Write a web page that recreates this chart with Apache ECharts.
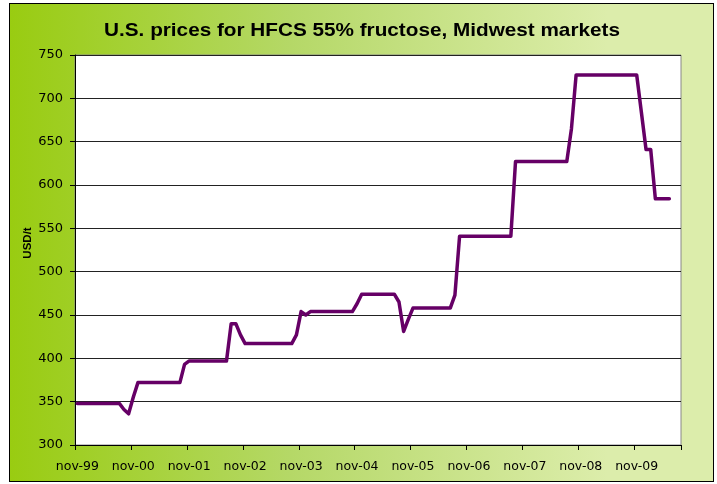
<!DOCTYPE html>
<html><head><meta charset="utf-8">
<script src="https://cdn.jsdelivr.net/npm/echarts@6/dist/echarts.min.js"></script>
<style>
html,body{margin:0;padding:0;background:#fff;}
#bg{position:absolute;left:9px;top:3px;width:703px;height:477px;border:1px solid #000;
background:linear-gradient(to right,#99cc11 0%,#b5d867 40%,#dcedab 85%,#dcedab 100%);}
#chart{position:absolute;left:0;top:0;width:717px;height:484px;}
</style></head>
<body>
<div id="bg"></div>
<div id="chart"></div>
<script>
// Month abbreviations used to build the category labels (nov-99 ... aug-10)
const monthNames = ['nov','dic','ene','feb','mar','abr','may','jun','jul','ago','sep','oct'];
const startYear = 1999;
const categoryCount = 130;
const tickLabels = ['nov-99','nov-00','nov-01','nov-02','nov-03','nov-04','nov-05','nov-06','nov-07','nov-08','nov-09'];
const titleText = 'U.S. prices for HFCS 55% fructose, Midwest markets';
const yAxisTitle = 'USD/t';

// HFCS 55% price, USD/t, monthly from nov-99
const prices1999_2002 = [348,348,348,348,348,348,348,348,348,348,341,336,355,372,372,372,372,372,372,372,372,372,372,393,397,397,397,397,397,397,397,397,397,440,440,427,417];
const prices2002_2005 = [417,417,417,417,417,417,417,417,417,417,427,454,450,454,454,454,454,454,454,454,454,454,454,463,474,474,474,474,474,474,474,474,465,431,445];
const prices2005_2008 = [458,458,458,458,458,458,458,458,458,473,541,541,541,541,541,541,541,541,541,541,541,541,627,627,627,627,627,627,627,627,627,627,627,627,665];
const prices2008_2010 = [727,727,727,727,727,727,727,727,727,727,727,727,727,727,684,641,641,584,584,584,584];

const categories = [];
for (let i = 0; i < categoryCount; i++) {
  const mi = i % 12;
  const yr = startYear + Math.floor((i + 10) / 12);
  categories.push(monthNames[mi] + '-' + String(yr % 100).padStart(2, '0'));
}
const values = prices1999_2002.concat(prices2002_2005, prices2005_2008, prices2008_2010);

const chart = echarts.init(document.getElementById('chart'), null, {renderer: 'canvas'});
chart.setOption({
  backgroundColor: 'transparent',
  animation: false,
  graphic: [{
    type: 'text',
    x: 362, y: 31,
    scaleX: 1.12,
    style: {
      text: titleText, textAlign: 'center', textVerticalAlign: 'middle',
      font: 'bold 18.5px "Liberation Sans", Arial', fill: '#000'
    }
  }, {
    type: 'text',
    x: 28, y: 243,
    rotation: Math.PI / 2,
    style: {
      text: yAxisTitle, textAlign: 'center', textVerticalAlign: 'middle',
      font: 'bold 11.5px "Liberation Sans", Arial', fill: '#000'
    }
  }],
  grid: {left: 75, right: 36, top: 55, bottom: 39, show: true, backgroundColor: '#fff', borderColor: '#888', borderWidth: 1},
  xAxis: {
    type: 'category',
    data: categories,
    boundaryGap: true,
    axisLine: {show: true, lineStyle: {color: '#000', width: 1}},
    axisTick: {show: true, interval: 11, length: 5, lineStyle: {color: '#000'}},
    axisLabel: {interval: 11, color: '#000', fontSize: 12.5, fontFamily: 'DejaVu Sans', margin: 15,
      formatter: function (v, i) { return tickLabels[i / 12] || v; }},
    splitLine: {show: false}
  },
  yAxis: {
    type: 'value', min: 300, max: 750, interval: 50,
    axisLine: {show: true, lineStyle: {color: '#000', width: 1}},
    axisTick: {show: true, length: 5, lineStyle: {color: '#000'}},
    axisLabel: {color: '#000', fontSize: 13, fontFamily: 'DejaVu Sans', margin: 12},
    splitLine: {show: true, lineStyle: {color: '#222', width: 1}}
  },
  series: [{
    type: 'line',
    data: values,
    showSymbol: false,
    symbol: 'none',
    lineStyle: {color: '#660066', width: 3.5, join: 'round', cap: 'round'},
    itemStyle: {color: '#660066'}
  }]
});
</script>
</body></html>
